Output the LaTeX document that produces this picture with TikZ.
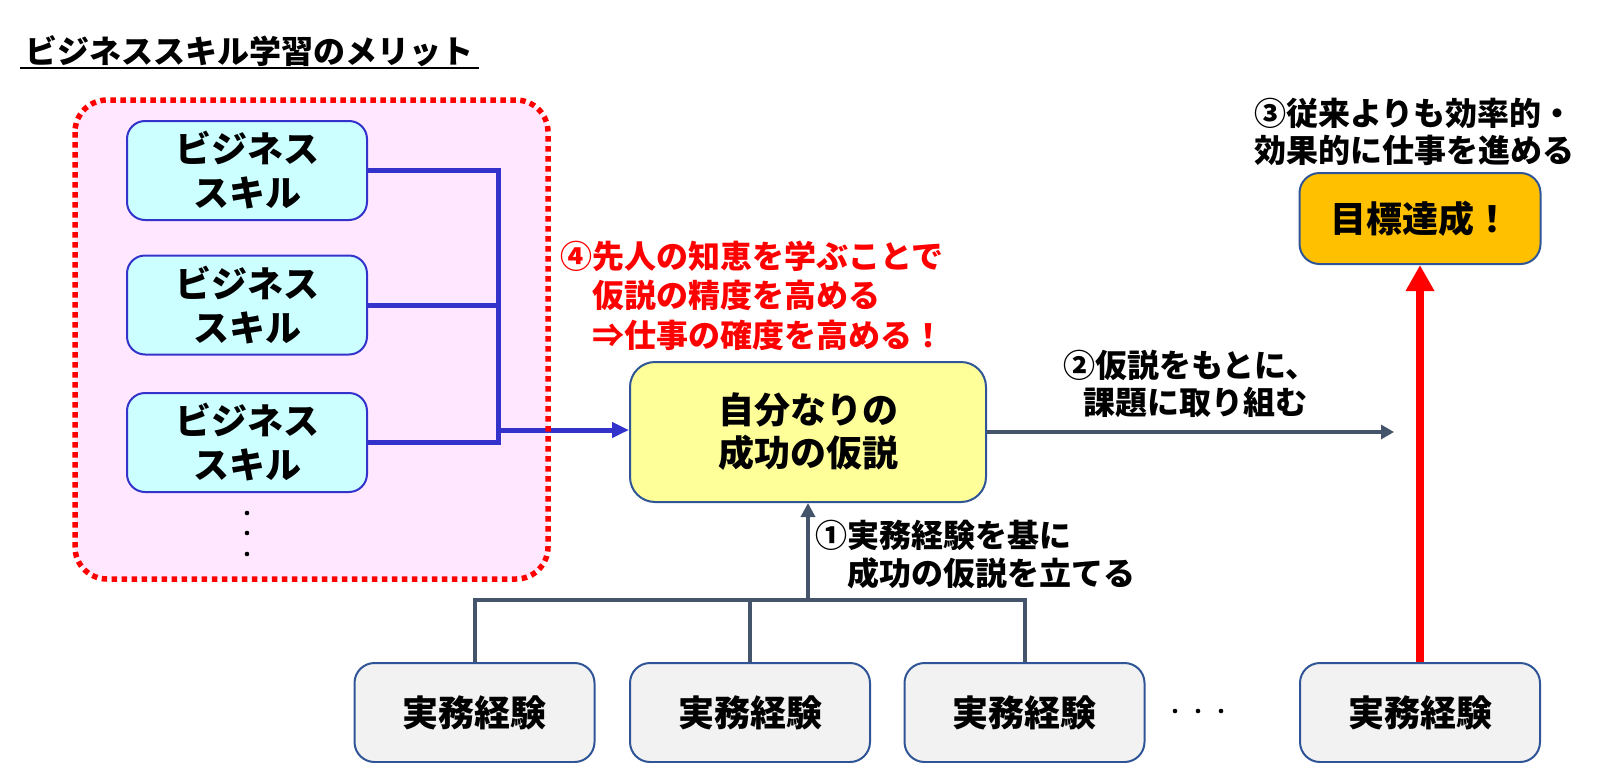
\documentclass[tikz,border=0pt]{standalone}
\usepackage{fontspec}
\setmainfont{Noto Sans CJK JP}
\usetikzlibrary{arrows.meta}
\definecolor{pinkfill}{RGB}{255,232,255}
\definecolor{skillfill}{RGB}{204,255,255}
\definecolor{skillblue}{RGB}{51,51,204}
\definecolor{boxborder}{RGB}{47,85,151}
\definecolor{hypfill}{RGB}{255,255,153}
\definecolor{goalfill}{RGB}{255,192,0}
\definecolor{expfill}{RGB}{242,242,242}
\definecolor{slate}{RGB}{68,84,106}
\definecolor{pured}{RGB}{255,0,0}
\begin{document}
\begin{tikzpicture}[x=1pt,y=-1pt,
  skillbox/.style={draw=skillblue, fill=skillfill, line width=2pt, rounded corners=18pt,
    minimum width=240pt, minimum height=99pt, inner sep=0pt, align=center,
    font=\fontsize{36}{44}\selectfont\bfseries},
  hypbox/.style={draw=boxborder, fill=hypfill, line width=2pt, rounded corners=25pt,
    minimum width=356pt, minimum height=140pt, inner sep=0pt, align=center,
    font=\fontsize{36}{43}\selectfont\bfseries},
  goalbox/.style={draw=boxborder, fill=goalfill, line width=2pt, rounded corners=20pt,
    minimum width=241pt, minimum height=91pt, inner sep=0pt, align=center,
    font=\fontsize{36}{43}\selectfont\bfseries},
  expbox/.style={draw=boxborder, fill=expfill, line width=2pt, rounded corners=20pt,
    minimum width=240pt, minimum height=99pt, inner sep=0pt, align=center,
    font=\fontsize{36}{43}\selectfont\bfseries},
  lbl/.style={inner sep=0pt, align=left, anchor=west},
  blueline/.style={draw=skillblue, line width=5pt},
  slateline/.style={draw=slate, line width=4pt},
  redarrow/.style={draw=pured, line width=8.5pt, -{Triangle[length=26pt,width=27pt]}},
]
\useasboundingbox (0,0) rectangle (1604,763);

% group background
\fill[pinkfill, rounded corners=32pt] (75,100) rectangle (548,579);

% title
\node[lbl, font=\fontsize{32}{38}\selectfont\bfseries] (title) at (25,51.5) {ビジネススキル学習のメリット};
\draw[line width=2pt] (20,68) -- (479,68);

% skill boxes
\node[skillbox] (sk1) at (247,170.5) {ビジネス\\スキル};
\node[skillbox] (sk2) at (247,305) {ビジネス\\スキル};
\node[skillbox] (sk3) at (247,442.5) {ビジネス\\スキル};
\fill (247,513) circle (2.3pt);
\fill (247,533) circle (2.3pt);
\fill (247,554) circle (2.3pt);

% main boxes
\node[hypbox] (hyp) at (808,432) {自分なりの\\成功の仮説};
\node[goalbox] (goal) at (1420,218.5) {目標達成！};
\node[expbox] (exp1) at (474.5,712.5) {実務経験};
\node[expbox] (exp2) at (750,712.5) {実務経験};
\node[expbox] (exp3) at (1024.5,712.5) {実務経験};
\node[expbox] (exp4) at (1420,712.5) {実務経験};
\fill (1175,711) circle (2.3pt);
\fill (1198,711) circle (2.3pt);
\fill (1221,711) circle (2.3pt);

% labels
\node[lbl, text=pured, font=\fontsize{32}{39.5}\selectfont\bfseries] (note4) at (560,295.5)
  {④先人の知恵を学ぶことで\\　仮説の精度を高める\\　⇒仕事の確度を高める！};
\node[lbl, font=\fontsize{32}{37.5}\selectfont\bfseries] (note3) at (1254,132)
  {③従来よりも効率的・\\効果的に仕事を進める};
\node[lbl, font=\fontsize{32}{36.5}\selectfont\bfseries] (note2) at (1063,384)
  {②仮説をもとに、\\\hspace*{20pt}課題に取り組む};
\node[lbl, font=\fontsize{32}{38.5}\selectfont\bfseries] (note1) at (815,554.5)
  {①実務経験を基に\\　成功の仮説を立てる};

% blue connectors
\coordinate (bj) at (498,430);
\draw[blueline] (sk1.east) -| (bj |- sk3.east) -- (sk3.east);
\draw[blueline] (sk2.east) -- (bj |- sk2.east);
\draw[blueline, -{Triangle[length=17pt,width=15pt]}] (bj) -- (hyp.west |- bj);

% slate connectors
\coordinate (tj) at (808,600);
\draw[slateline] (exp1.north) -- (exp1.north |- tj) -- (exp3.north |- tj) -- (exp3.north);
\draw[slateline] (exp2.north) -- (exp2.north |- tj);
\draw[slateline, -{Triangle[length=14pt,width=14pt]}] (tj) -- (hyp.south);
\coordinate (p2end) at (1394,432);
\draw[slateline, -{Triangle[length=13pt,width=14pt]}] (hyp.east) -- (p2end);

% red arrow
\draw[redarrow] (exp4.north) -- (goal.south);

% dotted group border
\draw[pured, line width=5.5pt, dash pattern=on 5.5pt off 4.5pt, rounded corners=32pt] (75,100) rectangle (548,579);
\end{tikzpicture}
\end{document}
